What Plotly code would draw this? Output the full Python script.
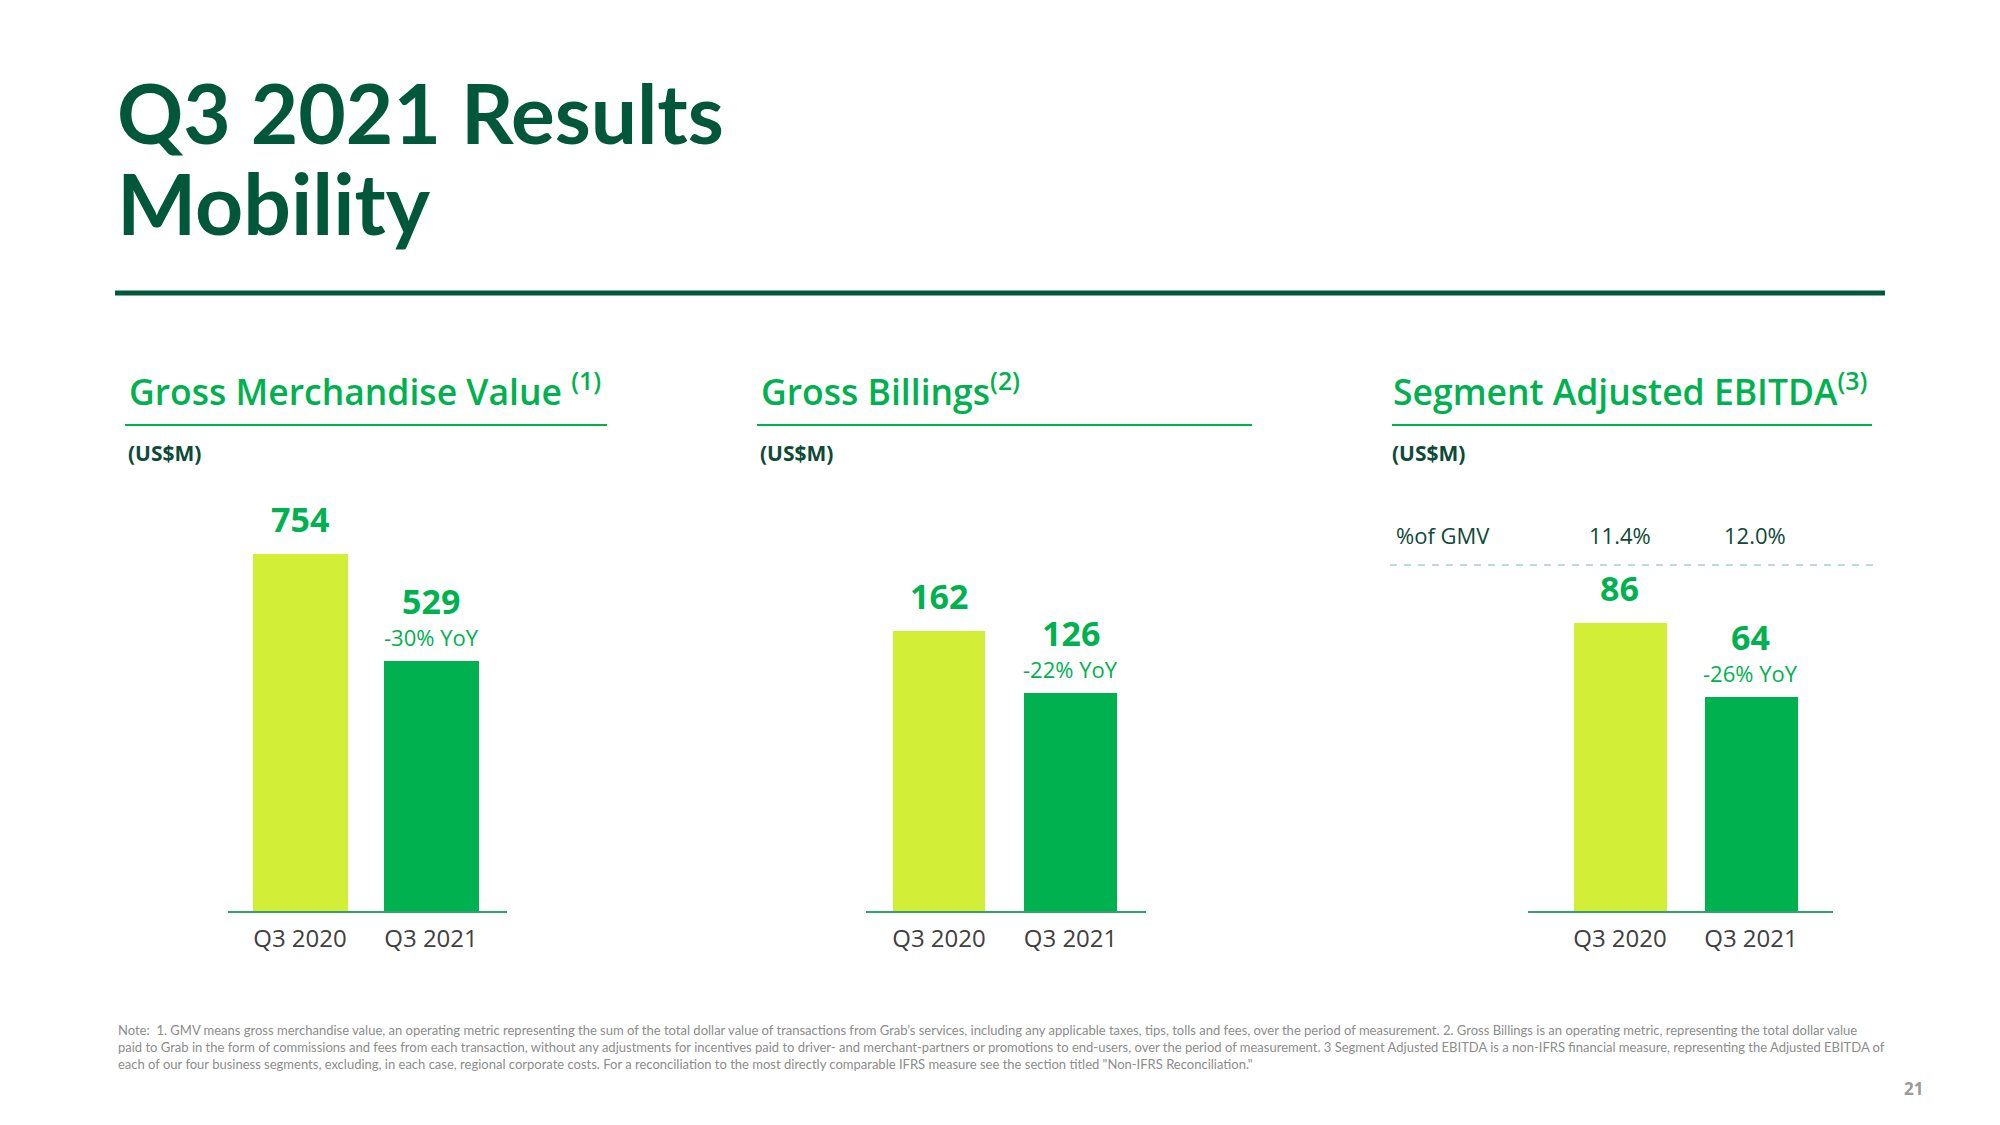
import plotly.graph_objects as go

# ---------------- data ----------------
periods = ["Q3 2020", "Q3 2021"]
gmv = [754, 529]
billings = [162, 126]
ebitda = [86, 64]
yoy_labels = ["-30% YoY", "-22% YoY", "-26% YoY"]
ebitda_pct_gmv = ["11.4%", "12.0%"]
panel_titles = ["Gross Merchandise Value <sup>(1)</sup>", "Gross Billings<sup>(2)</sup>",
                "Segment Adjusted EBITDA<sup>(3)</sup>"]
unit_label = "(US$M)"
pct_row_label = "%of GMV"
page_title = "Q3 2021 Results"
page_subtitle = "Mobility"
page_number = "21"
footnote_lines = [
    "Note:  1. GMV means gross merchandise value, an operating metric representing the sum of the total dollar value of transactions from Grab\u2019s services, including any applicable taxes, tips, tolls and fees, over the period of measurement. 2. Gross Billings is an operating metric, representing the total dollar value",
    "paid to Grab in the form of commissions and fees from each transaction, without any adjustments for incentives paid to driver- and merchant-partners or promotions to end-users, over the period of measurement. 3 Segment Adjusted EBITDA is a non-IFRS financial measure, representing the Adjusted EBITDA of",
    "each of our four business segments, excluding, in each case, regional corporate costs. For a reconciliation to the most directly comparable IFRS measure see the section titled \"Non-IFRS Reconciliation.\"",
]

# ---------------- styles ----------------
W, H = 2000, 1125
DARK = "#00573a"
GREEN = "#00B14F"
LIME = "#D3EE36"
TEXT_DARK = "#0d4a37"
GRAY = "#404040"
bar_colors = [LIME, GREEN]

def px(x):
    return x / W

def py(y):
    return 1 - y / H

series = [gmv, billings, ebitda]
# layout geometry per panel (pixels)
x_domains = [(227.5, 507), (866, 1146), (1527.5, 1833)]
x_ranges = [(-0.553, 1.580), (-0.555, 1.574), (-0.706, 1.626)]
bar_widths = [0.718, 0.707, 0.71]
y_max = [911.2, 249.1, 128.7]
title_x = [129, 761, 1393]
rule_x = [(125, 607), (757, 1252), (1392, 1872)]

fig = go.Figure()
annotations = []
shapes = []
layout_axes = {}

for i in range(3):
    n = "" if i == 0 else str(i + 1)
    fig.add_trace(go.Bar(
        x=periods, y=series[i], marker=dict(color=bar_colors, line=dict(width=0)),
        width=bar_widths[i], xaxis="x" + n, yaxis="y" + n, showlegend=False,
        hoverinfo="skip",
    ))
    layout_axes["xaxis" + n] = dict(
        domain=[px(x_domains[i][0]), px(x_domains[i][1])], anchor="y" + n,
        type="category", range=list(x_ranges[i]), showline=True,
        linecolor="#2fa36b", linewidth=1.5, ticks="outside", ticklen=5,
        tickcolor="rgba(0,0,0,0)", showgrid=False, zeroline=False,
        tickfont=dict(family="Open Sans", size=24, color=GRAY), fixedrange=True,
    )
    layout_axes["yaxis" + n] = dict(
        domain=[py(911), py(480)], anchor="x" + n, range=[0, y_max[i]],
        visible=False, showgrid=False, zeroline=False, fixedrange=True,
    )
    # panel title
    annotations.append(dict(
        text=panel_titles[i], xref="paper", yref="paper",
        x=px(title_x[i] - 2), y=py(389), xanchor="left", yanchor="middle",
        showarrow=False, font=dict(family="Open Sans", size=35.5, weight=600, color=GREEN),
    ))
    shapes.append(dict(type="line", xref="paper", yref="paper",
                       x0=px(rule_x[i][0]), x1=px(rule_x[i][1]), y0=py(425), y1=py(425),
                       line=dict(color=GREEN, width=2)))
    annotations.append(dict(
        text="<b>" + unit_label + "</b>", xref="paper", yref="paper",
        x=px(title_x[i] - 3), y=py(453), xanchor="left", yanchor="middle",
        showarrow=False, font=dict(family="Open Sans", size=21, color=TEXT_DARK),
    ))
    # value labels
    xr, yr = "x" + n, "y" + n
    annotations.append(dict(
        text="<b>%d</b>" % series[i][0], xref=xr, yref=yr, x=periods[0], y=series[i][0],
        yshift=35, xanchor="center", yanchor="middle", showarrow=False,
        font=dict(family="Open Sans", size=34, color=GREEN),
    ))
    annotations.append(dict(
        text="<b>%d</b>" % series[i][1], xref=xr, yref=yr, x=periods[1], y=series[i][1],
        yshift=60, xanchor="center", yanchor="middle", showarrow=False,
        font=dict(family="Open Sans", size=34, color=GREEN),
    ))
    annotations.append(dict(
        text=yoy_labels[i], xref=xr, yref=yr, x=periods[1], y=series[i][1],
        yshift=24, xanchor="center", yanchor="middle", showarrow=False,
        font=dict(family="Open Sans", size=22, color=GREEN),
    ))

# % of GMV row in EBITDA panel
annotations.append(dict(
    text=pct_row_label, xref="paper", yref="paper", x=px(1394), y=py(535),
    xanchor="left", yanchor="middle", showarrow=False,
    font=dict(family="Open Sans", size=22, color=TEXT_DARK),
))
for j in range(2):
    annotations.append(dict(
        text=ebitda_pct_gmv[j], xref="x3", yref="paper", x=periods[j], y=py(535),
        xanchor="center", yanchor="middle", showarrow=False, xshift=4 * j,
        font=dict(family="Open Sans", size=22, color=TEXT_DARK),
    ))
shapes.append(dict(type="line", xref="paper", yref="paper", x0=px(1390), x1=px(1873),
                   y0=py(565), y1=py(565), line=dict(color="#a9cbd8", width=1.5, dash="7px,7px")))

# page title
annotations.append(dict(
    text="<b>" + page_title + "</b>", xref="paper", yref="paper", x=px(115), y=py(112),
    xanchor="left", yanchor="middle", showarrow=False,
    font=dict(family="Lato", size=82, color=DARK),
))
annotations.append(dict(
    text="<b>" + page_subtitle + "</b>", xref="paper", yref="paper", x=px(115), y=py(203),
    xanchor="left", yanchor="middle", showarrow=False,
    font=dict(family="Lato", size=84, color=DARK),
))
shapes.append(dict(type="line", xref="paper", yref="paper", x0=px(115), x1=px(1885),
                   y0=py(293), y1=py(293), line=dict(color=DARK, width=5)))

# footnote
annotations.append(dict(
    text="<br>".join(footnote_lines), xref="paper", yref="paper", x=px(116), y=py(1020),
    xanchor="left", yanchor="top", align="left", showarrow=False,
    font=dict(family="Lato", size=13, color="#8c8c8c"),
))
annotations.append(dict(
    text="<b>" + page_number + "</b>", xref="paper", yref="paper", x=px(1913), y=py(1088),
    xanchor="center", yanchor="middle", showarrow=False,
    font=dict(family="Open Sans", size=17, color="#9a9a9a"),
))

fig.update_layout(
    width=W, height=H, margin=dict(l=0, r=0, t=0, b=0),
    paper_bgcolor="white", plot_bgcolor="rgba(0,0,0,0)",
    annotations=annotations, shapes=shapes, bargap=0, **layout_axes,
)
fig.write_html("out.html", config={"displayModeBar": False},
               post_script="document.body.style.margin='0';")
